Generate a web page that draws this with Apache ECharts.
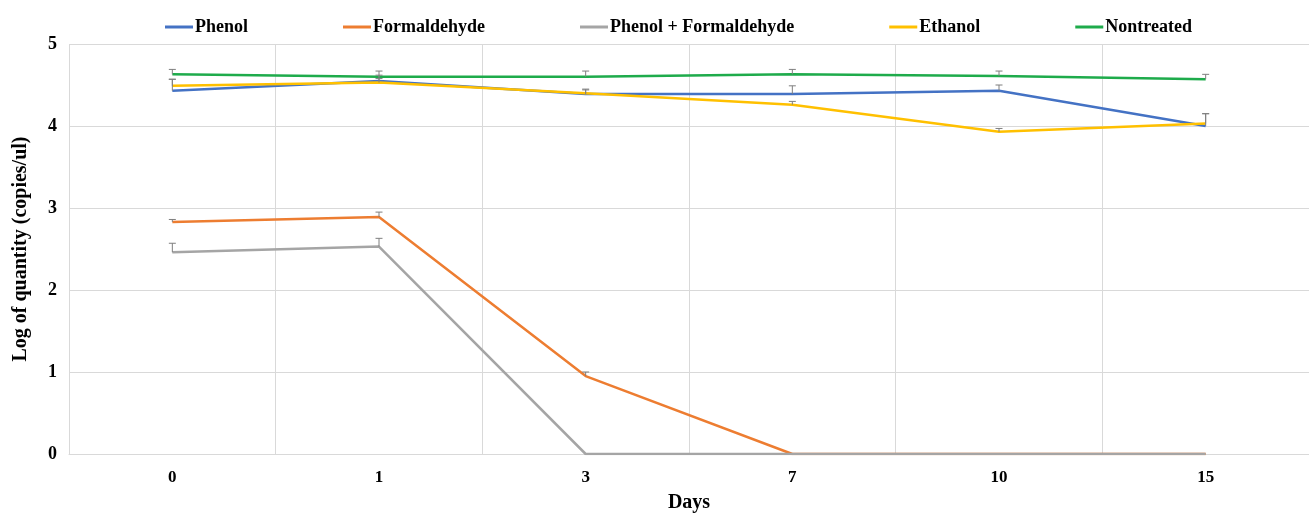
<!DOCTYPE html>
<html><head><meta charset="utf-8">
<script src="https://cdn.jsdelivr.net/npm/echarts@6/dist/echarts.min.js"></script>
<style>html,body{margin:0;padding:0;background:#fff}#c{width:1309px;height:514px}</style>
</head><body><div id="c"></div>
<script>
const days = ['0', '1', '3', '7', '10', '15'];
const seriesNames = ['Phenol', 'Formaldehyde', 'Phenol + Formaldehyde', 'Ethanol', 'Nontreated'];
const phenol = [4.43, 4.55, 4.39, 4.39, 4.43, 4.00];
const formaldehyde = [2.83, 2.89, 0.95, 0, 0, 0];
const phenolFormaldehyde = [2.46, 2.53, 0, 0, 0, 0];
const ethanol = [4.49, 4.53, 4.40, 4.26, 3.93, 4.03];
const nontreated = [4.63, 4.60, 4.60, 4.63, 4.61, 4.57];
const phenolErr = [0.14, 0.07, 0.06, 0.10, 0.07, 0.15];
const formaldehydeErr = [0.03, 0.06, 0.05, 0, 0, 0];
const phenolFormaldehydeErr = [0.11, 0.10, 0, 0, 0, 0];
const ethanolErr = [0.08, 0.05, 0.04, 0.04, 0.04, 0.12];
const nontreatedErr = [0.06, 0.07, 0.07, 0.06, 0.06, 0.06];
const colors = ['#4472C4', '#ED7D31', '#A5A5A5', '#FFC000', '#1EAB4B'];

const values = [phenol, formaldehyde, phenolFormaldehyde, ethanol, nontreated];
const errs = [phenolErr, formaldehydeErr, phenolFormaldehydeErr, ethanolErr, nontreatedErr];
const font = 'Liberation Serif, Times New Roman, serif';

const series = [];
values.forEach((v, i) => {
  series.push({
    name: seriesNames[i], type: 'line', data: v, showSymbol: false, symbol: 'none',
    lineStyle: { width: 2.5, color: colors[i] }, itemStyle: { color: colors[i] },
    z: 2 + (i === 2 ? 1 : 0), animation: false
  });
});
values.forEach((v, i) => {
  const d = v.map((y, k) => [k, y, y + errs[i][k]]).filter((p, k) => errs[i][k] > 0);
  series.push({
    type: 'custom', name: seriesNames[i] + ' err', data: d, z: 4, silent: true,
    renderItem: function (params, api) {
      const p0 = api.coord([api.value(0), api.value(1)]);
      const p1 = api.coord([api.value(0), api.value(2)]);
      const st = { stroke: '#7F7F7F', lineWidth: 1 };
      return { type: 'group', children: [
        { type: 'line', shape: { x1: p0[0], y1: p0[1], x2: p1[0], y2: p1[1] }, style: st },
        { type: 'line', shape: { x1: p1[0] - 3.5, y1: p1[1], x2: p1[0] + 3.5, y2: p1[1] }, style: st }
      ]};
    },
    animation: false
  });
});

const chart = echarts.init(document.getElementById('c'), null, { renderer: 'canvas' });
chart.setOption({
  animation: false,
  color: colors,
  legend: {
    data: seriesNames.map(n => ({ name: n, icon: 'rect' })),
    top: 13, left: 160, itemGap: 95, itemWidth: 28, itemHeight: 3,
    textStyle: { fontFamily: font, fontWeight: 'bold', fontSize: 18, color: '#000', padding: [0, 0, 0, -3] }
  },
  grid: { left: 69, right: 0, top: 44, bottom: 60, containLabel: false, outerBoundsMode: 'none' },
  xAxis: {
    type: 'category', data: days, boundaryGap: true,
    name: 'Days', nameLocation: 'middle', nameGap: 39,
    nameTextStyle: { fontFamily: font, fontWeight: 'bold', fontSize: 20, color: '#000' },
    axisLine: { show: true, lineStyle: { color: '#D9D9D9', width: 1 } },
    axisTick: { show: false },
    axisLabel: { fontFamily: font, fontWeight: 'bold', fontSize: 17, color: '#000', margin: 15 },
    splitLine: { show: true, lineStyle: { color: '#D9D9D9', width: 1 } }
  },
  yAxis: {
    type: 'value', min: 0, max: 5, interval: 1,
    name: 'Log of quantity (copies/ul)', nameLocation: 'middle', nameGap: 38, nameRotate: 90,
    nameTextStyle: { fontFamily: font, fontWeight: 'bold', fontSize: 20, color: '#000' },
    axisLine: { show: false }, axisTick: { show: false },
    axisLabel: { fontFamily: font, fontWeight: 'bold', fontSize: 18, color: '#000', margin: 12 },
    splitLine: { show: true, lineStyle: { color: '#D9D9D9', width: 1 } }
  },
  series: series
});
</script></body></html>
